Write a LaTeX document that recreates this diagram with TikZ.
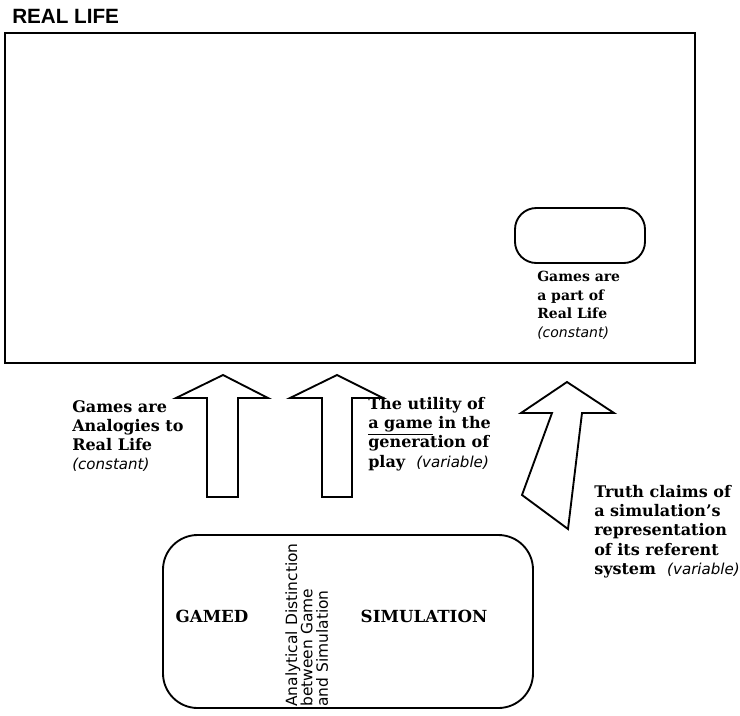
\documentclass[tikz,border=0pt]{standalone}
\usepackage{fontspec}
\setmainfont{DejaVu Serif}
\newfontfamily\titulofonte{Liberation Sans}
\newfontfamily\rotulofonte{DejaVu Sans}

\tikzset{
  caixa/.style={draw, line width=1.4pt},
  seta/.style={draw, line width=1.4pt, line join=miter},
  rotulo/.style={anchor=north west, inner sep=0pt, align=left,
    font=\bfseries\fontsize{12}{14.4}\selectfont},
}
\newcommand{\obs}[2][11.3]{{\normalfont\rotulofonte\itshape\fontsize{#1}{14.4}\selectfont #2}}

\begin{document}
\begin{tikzpicture}[x=0.75pt,y=-0.75pt]
            \useasboundingbox (0,0) rectangle (740,715);
            % Vida real - retangulo externo
            \node at (12,16) (titulo) [anchor=west, inner sep=0pt, font=\titulofonte\bfseries\fontsize{15.5}{18}\selectfont] {REAL LIFE};
            \draw[caixa] (5,33) rectangle (695,363);
            \draw[caixa, rounded corners=16pt] (515,208) rectangle (645,263);
            \node at (537,271) (parte) [rotulo, font=\bfseries\fontsize{10.5}{13.9}\selectfont] {Games are\\a part of\\Real Life\\\obs[10.5]{(constant)}};
            % Setas para cima
            \draw[seta] (223,375) -- (268,398) -- (238,398) -- (238,497) -- (207,497) -- (207,398) -- (176,398) -- cycle;
            \draw[seta] (337,375) -- (383,398) -- (352,398) -- (352,497) -- (322,497) -- (322,398) -- (290,398) -- cycle;
            \draw[seta] (567,382) -- (614,413) -- (582,413) -- (568,529) -- (522,495) -- (552,413) -- (521,413) -- cycle;
            % Rotulos das setas
            \node at (72,400) (analogia) [rotulo] {Games are\\Analogies to\\Real Life\\\obs{(constant)}};
            \node at (368,397) (utilidade) [rotulo] {The utility of\\\underline{a game} in the\\generation of\\play \ \obs{(variable)}};
            \node at (594,485) (verdade) [rotulo] {Truth claims of\\a simulation's\\representation\\of its referent\\system \ \obs{(variable)}};
            % Jogo e simulacao
            \draw[caixa, rounded corners=26pt] (163,535) rectangle (533,708);
            \node at (212,616) (jogo) [font=\bfseries\fontsize{12.5}{14}\selectfont] {GAMED};
            \node at (424,616) (simulacao) [font=\bfseries\fontsize{12.5}{14}\selectfont] {SIMULATION};
            \node at (285,707) (distincao) [rotate=90, anchor=north west, inner sep=0pt, align=left, font=\rotulofonte\fontsize{11.6}{11.6}\selectfont] {Analytical Distinction\\between Game\\and Simulation};
        \end{tikzpicture}
\end{document}
